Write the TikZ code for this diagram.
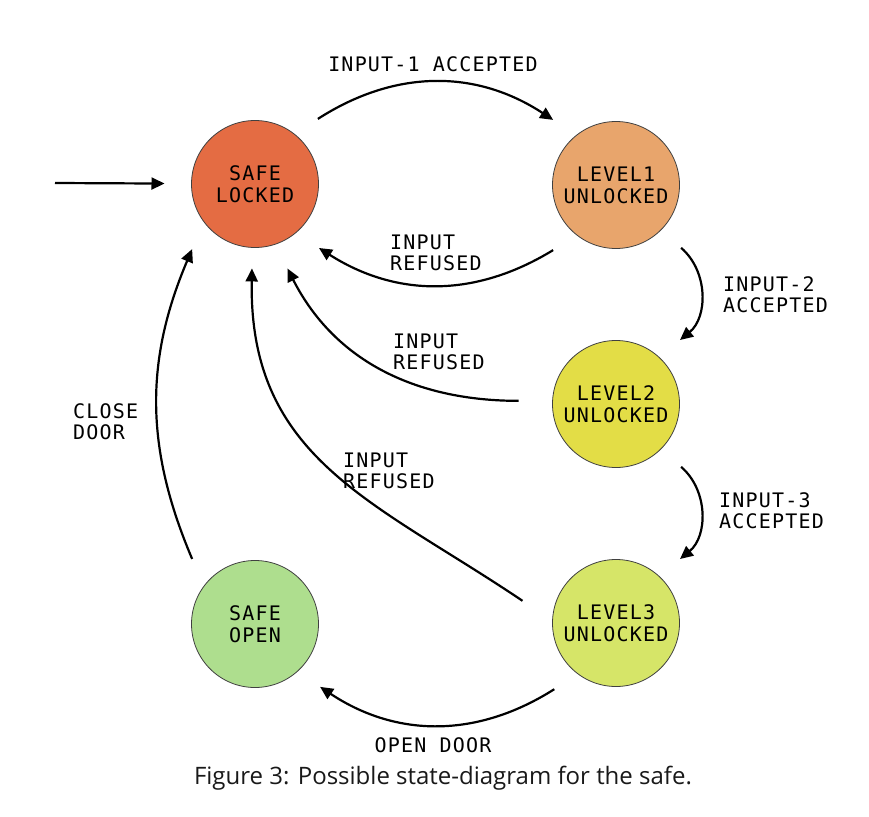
\documentclass[tikz,border=0pt]{standalone}
\usepackage{fontspec}
\setmainfont{Open Sans}
\newfontfamily\monofont[LetterSpace=6]{DejaVu Sans Mono}
\usetikzlibrary{arrows.meta}
\definecolor{lockedfill}{HTML}{E46C43}
\definecolor{levelAfill}{HTML}{E8A56C}
\definecolor{levelBfill}{HTML}{E3DD46}
\definecolor{levelCfill}{HTML}{D6E568}
\definecolor{openfill}{HTML}{AEDE8E}
\tikzset{
    safestate/.style={circle, draw=black!75, line width=0.8pt, minimum size=127pt,
        inner sep=0pt, outer sep=27pt, align=center,
        font=\monofont\fontsize{20}{22}\selectfont},
    trans/.style={-{Triangle[length=13pt,width=12pt]}, line width=2.2pt},
    translabel/.style={font=\monofont\fontsize{20}{21}\selectfont, align=left,
        inner sep=0pt, anchor=base west}
}

\begin{document}
\begin{tikzpicture}[x=1pt, y=1pt]
    \useasboundingbox (0,0) rectangle (869,-816);
    % states
    \node[safestate, fill=lockedfill] (locked) at (255,-184) {SAFE\\LOCKED};
    \node[safestate, fill=levelAfill] (level1) at (616,-185) {LEVEL1\\UNLOCKED};
    \node[safestate, fill=levelBfill] (level2) at (616,-404) {LEVEL2\\UNLOCKED};
    \node[safestate, fill=levelCfill] (level3) at (616,-623) {LEVEL3\\UNLOCKED};
    \node[safestate, fill=openfill] (open) at (255,-624) {SAFE\\OPEN};
    \coordinate (start) at (55,-183);

    % transitions
    \draw[trans] (start) -- (locked);
    \draw[trans] (locked.46) to[bend left=33] (level1.134);
    \draw[trans] (level1.226) to[bend left=32] (locked.315);
    \draw[trans] (level1.316) to[bend left=50] (level2.45);
    \draw[trans] (level2.316) to[bend left=50] (level3.45);
    \draw[trans, shorten <=7pt] (level2.178) to[out=180, in=-63] (locked.291);
    \draw[trans, shorten <=6pt, shorten >=-6pt] (level3.168)
        to[out=146, in=-91, looseness=1.1] (locked.268);
    \draw[trans] (open.134) to[bend left=23] (locked.226);
    \draw[trans] (level3.227) to[bend left=33] (open.316);

    % labels
    \node[translabel, anchor=base] (acc1) at (433,-71) {INPUT-1 ACCEPTED};
    \node[translabel] (ref1) at (390,-270) {INPUT\\REFUSED};
    \node[translabel] (acc2) at (723,-312) {INPUT-2\\ACCEPTED};
    \node[translabel] (ref2) at (393,-369) {INPUT\\REFUSED};
    \node[translabel] (acc3) at (719,-528) {INPUT-3\\ACCEPTED};
    \node[translabel] (ref3) at (343,-488) {INPUT\\REFUSED};
    \node[translabel] (close) at (73,-439) {CLOSE\\DOOR};
    \node[translabel, anchor=base] (opendoor) at (433,-752) {OPEN DOOR};

    \node[font=\fontsize{24}{28}\selectfont, text=black!90, anchor=base] (caption)
        at (443,-784) {Figure 3: Possible state-diagram for the safe.};
\end{tikzpicture}
\end{document}
